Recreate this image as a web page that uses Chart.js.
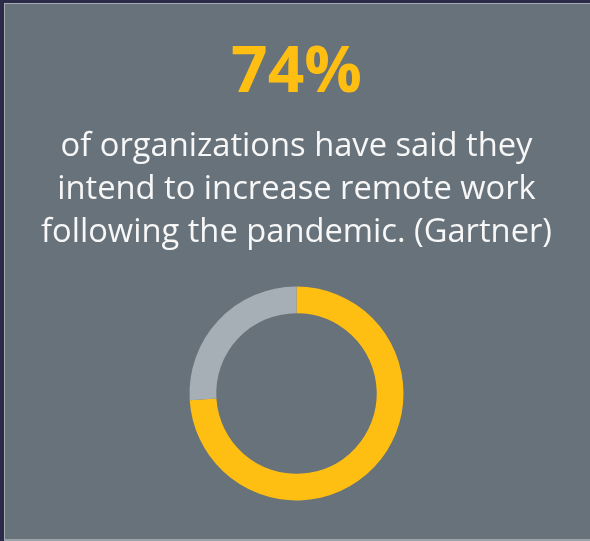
<!DOCTYPE html>
<html>
<head>
<meta charset="utf-8">
<script src="https://cdn.jsdelivr.net/npm/chart.js@4"></script>
<style>
  html, body { margin: 0; padding: 0; }
  body { width: 590px; height: 541px; background: #2b2a48; position: relative; overflow: hidden; }
  #panel {
    position: absolute; left: 4px; top: 3px; width: 585px; height: 535px;
    background: #67727a;
    border-top: 1px solid #a3acb3; border-left: 1px solid #a3acb3; border-bottom: 2px solid #9aa3aa;
  }
  #wrap { position: absolute; left: 0; top: 0; width: 590px; height: 541px; }
</style>
</head>
<body>
<div id="panel"></div>
<div id="wrap"><canvas id="donut"></canvas></div>
<script>
// data
const headline = "74%";
const caption = [
  "of organizations have said they",
  "intend to increase remote work",
  "following the pandemic. (Gartner)"
];
const labels = ["Increase remote work", "Other"];
const values = [74, 26];
const colors = ["#ffbf12", "#a6afb5"];

// fit caption font size to the width of the widest reference line
const fam = "'Open Sans', sans-serif";
const mctx = document.createElement('canvas').getContext('2d');
mctx.font = "100px " + fam;
const w100 = mctx.measureText(caption[2]).width;
const capSize = Math.round(512 / w100 * 100 * 10) / 10;

new Chart(document.getElementById('donut'), {
  type: 'doughnut',
  data: {
    labels: labels,
    datasets: [{
      data: values,
      backgroundColor: colors,
      borderWidth: 0,
      hoverOffset: 0
    }]
  },
  options: {
    responsive: true,
    maintainAspectRatio: false,
    animation: false,
    cutout: '75%',
    events: [],
    layout: { padding: { left: 3, right: 0, top: 0, bottom: 40.5 } },
    plugins: {
      legend: { display: false },
      tooltip: { enabled: false },
      title: {
        display: true,
        text: headline,
        color: '#ffbf12',
        font: { family: fam, size: 64, weight: 'bold', lineHeight: 1 },
        padding: { top: 42, bottom: 0 }
      },
      subtitle: {
        display: true,
        text: caption,
        color: '#f7f7f7',
        font: { family: fam, size: capSize, weight: 'normal', lineHeight: 43 / capSize },
        padding: { top: 19.5, bottom: 32 }
      }
    }
  }
});
</script>
</body>
</html>
